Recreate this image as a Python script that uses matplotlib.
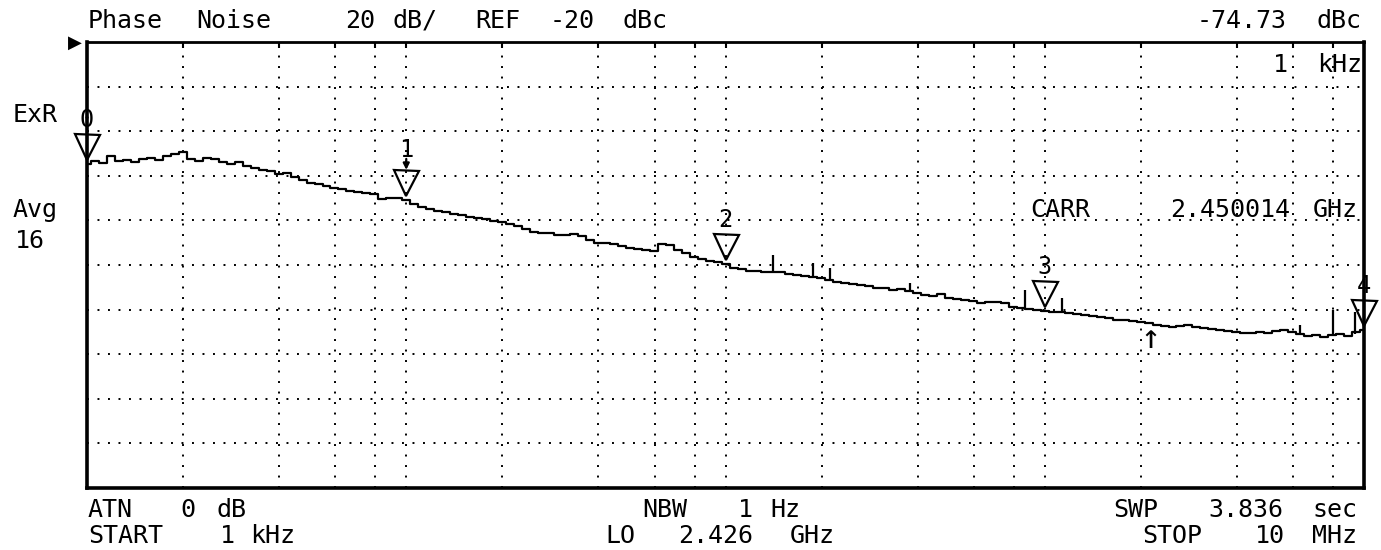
import numpy as np
import matplotlib
matplotlib.use("Agg")
import matplotlib.pyplot as plt
from matplotlib.transforms import offset_copy
from matplotlib.ticker import NullLocator

# ---------------- data ----------------
# sweep frequencies (Hz), 40 points per decade, 1 kHz .. 10 MHz
freq_hz = np.logspace(3, 7, 161)
# phase-noise trace (dBc)
trace_dbc = [
    -74.7, -73.4, -74.3, -71.1, -73.4, -72.9, -73.8, -72.5, -72.0, -72.9,
    -71.1, -70.2, -69.3, -72.5, -73.4, -72.0, -72.5, -73.8, -74.7, -73.8,
    -75.6, -76.5, -77.4, -77.8, -79.2, -78.8, -80.5, -81.9, -83.2, -83.7,
    -84.6, -85.5, -85.9, -86.8, -87.3, -87.7, -88.2, -90.4, -90.0, -90.0,
    -90.8, -92.6, -94.0, -94.9, -95.8, -96.2, -97.1, -97.6, -98.5, -98.9,
    -99.4, -100.3, -100.7, -101.6, -102.5, -103.9, -105.2, -105.6, -105.6, -106.5,
    -106.5, -106.1, -107.0, -108.8, -110.1, -110.1, -110.6, -111.5, -112.4, -112.8,
    -113.3, -113.7, -110.6, -111.0, -113.3, -114.6, -116.4, -117.3, -118.2, -118.6,
    -119.5, -121.3, -121.8, -122.7, -122.7, -123.1, -123.1, -123.1, -124.0, -124.5,
    -124.9, -125.3, -125.8, -126.7, -127.6, -128.1, -128.5, -129.0, -129.4, -130.3,
    -130.3, -131.2, -130.8, -131.5, -132.5, -133.4, -133.9, -133.0, -134.8, -135.2,
    -135.7, -136.1, -137.0, -136.6, -136.6, -137.0, -138.8, -139.2, -139.7, -140.2,
    -140.6, -141.1, -141.3, -141.5, -142.0, -142.4, -142.9, -143.3, -143.8, -144.7,
    -144.7, -145.1, -145.6, -146.0, -146.9, -147.3, -147.8, -147.3, -146.9, -147.8,
    -148.2, -148.7, -149.1, -149.6, -150.0, -150.5, -150.5, -150.0, -150.5, -149.6,
    -149.1, -150.0, -150.9, -151.8, -151.4, -152.3, -151.6, -150.9, -151.8, -150.0,
    -149.1,
]
# discrete spurs on the trace: frequency, base level, peak level (dBc)
spur_freq = [1.41e5, 1.88e5, 2.12e5, 3.78e5, 8.67e5, 1.13e6, 6.3e6, 8.0e6, 9.37e6]
spur_base_dbc = [-123.1, -124.9, -126.3, -131.7, -139.7, -141.5, -150.5, -151.4, -150.9]
spur_peak_dbc = [-115.5, -119.1, -121.3, -128.1, -131.2, -134.8, -146.9, -140.2, -141.1]

marker_freq = [1e3, 1e4, 1e5, 1e6, 1e7]
marker_dbc = [-74.73, -90.8, -119.5, -140.6, -149.1]
marker_labels = ["0", "1", "2", "3", "4"]
active_marker = 1
cursor_freq = 2.15e6
cursor_dbc = -146.0

x_grid = [2e3, 4e3, 6e3, 8e3, 1e4, 2e4, 4e4, 6e4, 8e4, 1e5, 2e5, 4e5, 6e5, 8e5,
          1e6, 2e6, 4e6, 6e6, 8e6]
ref_level = -20
db_per_div = 20
n_div = 10

# ---------------- figure ----------------
W, H = 1381, 550
fig = plt.figure(figsize=(W / 100, H / 100), dpi=100)
fig.patch.set_facecolor("white")
ax = fig.add_axes([87 / W, 1 - 488 / H, (1364 - 87) / W, (488 - 42) / H])

ax.set_xscale("log")
ax.set_xlim(1e3, 1e7)
ax.set_ylim(ref_level - db_per_div * n_div, ref_level)
ax.set_xticks(x_grid)
ax.set_yticks(np.arange(ref_level - db_per_div * (n_div - 1), ref_level, db_per_div))
ax.xaxis.set_minor_locator(NullLocator())
ax.yaxis.set_minor_locator(NullLocator())
ax.grid(True, color="black", linestyle=(0, (1, 4.4)), linewidth=1.4)
ax.tick_params(axis="both", labelbottom=False, labelleft=False, bottom=False, left=False)
ax.tick_params(axis="x", top=True, direction="in", length=4, width=1.5, color="black")
for side, sp in ax.spines.items():
    sp.set_linewidth(2.6 if side in ("left", "right", "bottom") else 2.0)
    sp.set_color("black")

ax.plot(freq_hz, trace_dbc, color="black", lw=1.6, drawstyle="steps-mid", zorder=3)
ax.vlines(spur_freq, spur_base_dbc, spur_peak_dbc, color="black", lw=1.6, zorder=3)

MONO = "DejaVu Sans Mono"
tri_tr = offset_copy(ax.transData, fig=fig, x=0, y=17, units="dots")
ax.plot(marker_freq, marker_dbc, linestyle="none", marker="v", ms=18,
        mfc="none", mec="black", mew=1.6, transform=tri_tr, clip_on=False, zorder=4)
for i, (f, v, lab) in enumerate(zip(marker_freq, marker_dbc, marker_labels)):
    off = 50 if i == active_marker else 44
    ax.text(f, v, lab, transform=offset_copy(ax.transData, fig=fig, y=off, units="dots"),
            ha="center", va="center", fontsize=17, family=MONO, clip_on=False)
# active-marker arrow
ax.annotate("", xy=(marker_freq[active_marker], marker_dbc[active_marker]),
            xycoords=offset_copy(ax.transData, fig=fig, y=30, units="dots"),
            xytext=(marker_freq[active_marker], marker_dbc[active_marker]),
            textcoords=offset_copy(ax.transData, fig=fig, y=41, units="dots"),
            arrowprops=dict(arrowstyle="-|>", color="black", lw=1.6, mutation_scale=9,
                            shrinkA=0, shrinkB=0))
ax.text(cursor_freq, cursor_dbc, "\u2191", transform=offset_copy(ax.transData, fig=fig, y=-16, units="dots"),
        ha="center", va="center", fontsize=24, family=MONO)


def put(x, y, s, ha="left", size=18):
    fig.text(x / W, 1 - y / H, s, ha=ha, va="baseline", fontsize=size, family=MONO, color="black")


# top annotation line
put(88, 28, "Phase")
put(196, 28, "Noise")
put(345, 28, "20")
put(392, 28, "dB/")
put(475, 28, "REF")
put(550, 28, "-20")
put(623, 28, "dBc")
put(1287, 28, "-74.73", ha="right")
put(1362, 28, "dBc", ha="right")
# marker readout frequency
put(1288, 72, "1", ha="right")
put(1362, 72, "kHz", ha="right")
# left side
put(13, 122, "ExR")
put(13, 217, "Avg")
put(15, 248, "16")
# carrier
put(1030, 217, "CARR")
put(1290, 217, "2.450014", ha="right")
put(1358, 217, "GHz", ha="right")
# bottom rows
put(88, 517, "ATN")
put(180, 517, "0")
put(217, 517, "dB")
put(88, 543, "START")
put(220, 543, "1")
put(250, 543, "kHz")
put(642, 517, "NBW")
put(738, 517, "1")
put(770, 517, "Hz")
put(605, 543, "LO")
put(678, 543, "2.426")
put(790, 543, "GHz")
put(1113, 517, "SWP")
put(1283, 517, "3.836", ha="right")
put(1357, 517, "sec", ha="right")
put(1142, 543, "STOP")
put(1285, 543, "10", ha="right")
put(1357, 543, "MHz", ha="right")
# reference level pointer
fig.text(68 / W, 1 - 43 / H, "\u25B6", ha="left", va="center", fontsize=13, family="DejaVu Sans")

fig.savefig("out.png", dpi=100, facecolor="white")
